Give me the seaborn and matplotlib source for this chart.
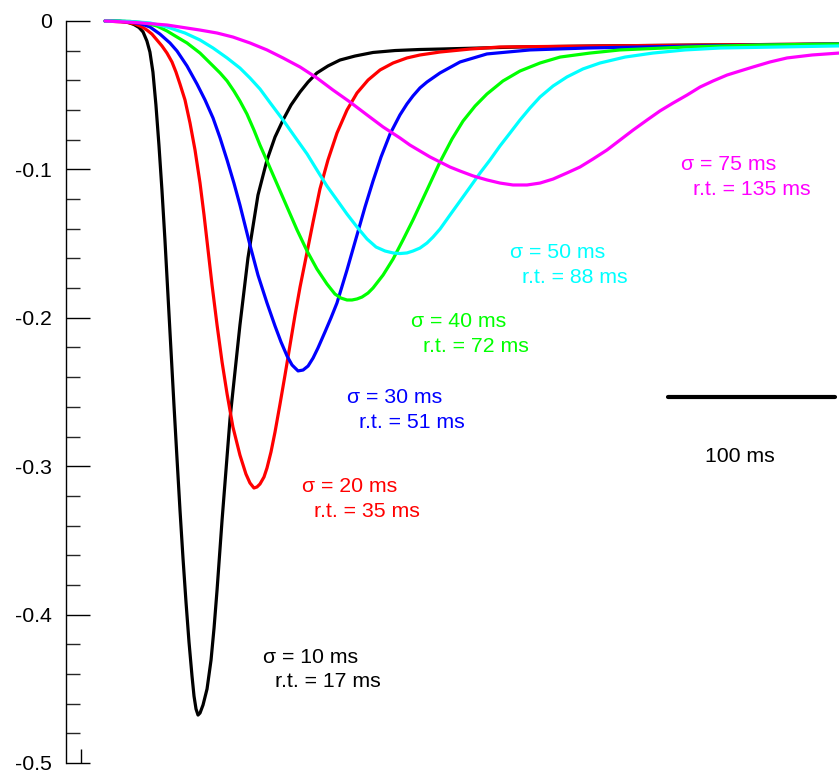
import matplotlib
matplotlib.use("Agg")
import matplotlib.pyplot as plt
import seaborn as sns
import pandas as pd

# ---------------- data (time in ms, response) ----------------
sigmas = [10, 20, 30, 40, 50, 75]
rise_times = [17, 35, 51, 72, 88, 135]
colors = ["#000000", "#ff0000", "#0000ff", "#00ff00", "#00ffff", "#ff00ff"]

t_s10 = [0, 9.0, 13.8, 17.4, 20.4, 22.8, 25.1, 26.9, 28.7, 30.5, 32.3, 34.1, 35.9, 37.7, 39.5,
         41.3, 43.1, 44.9, 46.7, 48.5, 50.3, 52.1, 53.3, 54.5, 55.7, 56.9, 58.7, 61.1, 63.5,
         65.3, 67.1, 70.1, 74.9, 80.8, 85.6, 91.6, 97.0, 101.8, 106.6, 111.4, 116.8, 121.6,
         126.9, 133.5, 140.7, 149.7, 160.5, 173.7, 188.6, 200.6, 248.5, 296.4, 356.3, 439.5]
v_s10 = [0, -0.0002, -0.0009, -0.0024, -0.0044, -0.0074, -0.0135, -0.0209, -0.0344, -0.0566,
         -0.0836, -0.1139, -0.1476, -0.1846, -0.2217, -0.2588, -0.2945, -0.3295, -0.3619,
         -0.3915, -0.4185, -0.4414, -0.4549, -0.4636, -0.4677, -0.4663, -0.4609, -0.4501,
         -0.4306, -0.4090, -0.3834, -0.3363, -0.2675, -0.2049, -0.1597, -0.1173, -0.0937,
         -0.0782, -0.0667, -0.0566, -0.0478, -0.0411, -0.0350, -0.0303, -0.0263, -0.0236,
         -0.0212, -0.0199, -0.0192, -0.0189, -0.0175, -0.0168, -0.0162, -0.0155]

t_s20 = [0, 12.0, 18.0, 22.2, 25.1, 28.1, 31.1, 34.1, 37.1, 40.1, 42.5, 44.9, 47.9, 50.9, 53.9,
         56.9, 59.3, 61.7, 64.1, 67.1, 70.1, 73.1, 76.6, 80.8, 84.4, 86.8, 89.2, 91.0, 92.8,
         95.2, 97.0, 99.4, 101.8, 104.8, 107.8, 110.8, 113.8, 116.8, 121.0, 124.6, 128.7,
         133.5, 138.9, 144.9, 150.9, 157.5, 164.7, 172.5, 180.8, 188.6, 200.6, 218.6, 236.5,
         296.4, 356.3, 439.5]
v_s20 = [0, -0.0007, -0.0020, -0.0040, -0.0061, -0.0088, -0.0128, -0.0168, -0.0216, -0.0276,
         -0.0344, -0.0425, -0.0532, -0.0687, -0.0869, -0.1092, -0.1307, -0.1543, -0.1779,
         -0.2049, -0.2298, -0.2513, -0.2736, -0.2925, -0.3053, -0.3113, -0.3147, -0.3140,
         -0.3120, -0.3073, -0.3012, -0.2904, -0.2770, -0.2581, -0.2385, -0.2183, -0.1981,
         -0.1792, -0.1557, -0.1354, -0.1132, -0.0937, -0.0755, -0.0600, -0.0485, -0.0398,
         -0.0330, -0.0283, -0.0249, -0.0229, -0.0209, -0.0189, -0.0175, -0.0168, -0.0162,
         -0.0155]

t_s30 = [0, 12.0, 21.0, 26.9, 32.9, 38.9, 43.1, 49.1, 55.1, 59.9, 64.7, 68.9, 73.1, 77.2, 80.8,
         86.8, 91.6, 97.0, 101.8, 105.4, 109.0, 112.0, 115.6, 118.6, 121.6, 124.6, 127.5,
         131.7, 135.3, 138.9, 144.9, 150.9, 155.7, 160.5, 165.3, 170.7, 176.6, 180.8, 184.4,
         188.6, 192.8, 200.6, 212.6, 228.7, 254.5, 288.6, 356.3, 439.5]
v_s30 = [0, -0.0003, -0.0017, -0.0040, -0.0088, -0.0148, -0.0202, -0.0303, -0.0425, -0.0532,
         -0.0654, -0.0788, -0.0937, -0.1092, -0.1240, -0.1509, -0.1712, -0.1900, -0.2055,
         -0.2163, -0.2257, -0.2318, -0.2358, -0.2352, -0.2325, -0.2271, -0.2204, -0.2096,
         -0.2001, -0.1900, -0.1678, -0.1442, -0.1253, -0.1078, -0.0916, -0.0761, -0.0633,
         -0.0559, -0.0505, -0.0451, -0.0411, -0.0350, -0.0276, -0.0222, -0.0195, -0.0182,
         -0.0168, -0.0155]

t_s40 = [0, 15.0, 24.0, 31.1, 37.1, 43.1, 49.1, 56.9, 64.7, 68.9, 73.1, 77.2, 80.8, 85.0, 89.2,
         92.8, 97.0, 103.0, 109.0, 115.0, 121.0, 126.9, 132.9, 137.7, 141.3, 144.9, 147.9,
         150.9, 153.9, 157.5, 160.5, 166.5, 172.5, 178.4, 184.4, 192.8, 200.6, 207.8, 214.4,
         221.6, 228.7, 238.3, 248.5, 260.5, 272.5, 290.4, 308.4, 348.5, 392.2, 439.5]
v_s40 = [0, -0.0003, -0.0013, -0.0034, -0.0067, -0.0108, -0.0148, -0.0216, -0.0303, -0.0350,
         -0.0404, -0.0472, -0.0539, -0.0627, -0.0735, -0.0836, -0.0943, -0.1098, -0.1253,
         -0.1408, -0.1550, -0.1671, -0.1772, -0.1840, -0.1867, -0.1880, -0.1880, -0.1873,
         -0.1860, -0.1833, -0.1799, -0.1712, -0.1604, -0.1476, -0.1341, -0.1139, -0.0950,
         -0.0795, -0.0674, -0.0573, -0.0492, -0.0404, -0.0337, -0.0283, -0.0243, -0.0216,
         -0.0195, -0.0175, -0.0162, -0.0155]

t_s50 = [0, 15.0, 26.9, 37.1, 47.9, 56.9, 64.7, 73.1, 80.8, 86.8, 92.8, 99.4, 106.6, 113.8,
         121.0, 126.9, 132.9, 138.9, 144.9, 150.9, 156.9, 162.3, 167.7, 172.5, 176.6, 180.8,
         184.4, 188.6, 192.8, 196.4, 200.6, 206.6, 212.6, 218.6, 224.6, 230.5, 236.5, 242.5,
         248.5, 254.5, 260.5, 268.3, 276.6, 286.2, 296.4, 311.4, 328.1, 347.3, 368.3, 404.2,
         439.5]
v_s50 = [0, -0.0003, -0.0013, -0.0040, -0.0081, -0.0128, -0.0182, -0.0249, -0.0317, -0.0384,
         -0.0458, -0.0559, -0.0667, -0.0782, -0.0896, -0.1004, -0.1112, -0.1206, -0.1301,
         -0.1388, -0.1469, -0.1523, -0.1550, -0.1563, -0.1567, -0.1563, -0.1550, -0.1530,
         -0.1496, -0.1456, -0.1402, -0.1307, -0.1213, -0.1119, -0.1024, -0.0937, -0.0842,
         -0.0755, -0.0667, -0.0586, -0.0512, -0.0438, -0.0377, -0.0323, -0.0283, -0.0243,
         -0.0216, -0.0195, -0.0182, -0.0175, -0.0168]

t_s75 = [0, 18.0, 37.1, 56.9, 67.1, 76.6, 86.8, 97.0, 106.6, 116.8, 126.9, 136.5, 146.7, 156.9,
         166.5, 176.6, 182.6, 188.6, 194.6, 200.6, 206.6, 212.6, 220.4, 228.7, 236.5, 244.3,
         252.7, 260.5, 268.3, 276.6, 284.4, 292.2, 300.6, 308.4, 316.2, 324.6, 332.3, 340.1,
         348.5, 356.3, 364.1, 372.5, 380.2, 388.0, 398.2, 408.4, 423.4, 439.5]
v_s75 = [0, -0.0010, -0.0027, -0.0061, -0.0081, -0.0108, -0.0148, -0.0195, -0.0249, -0.0310,
         -0.0384, -0.0465, -0.0546, -0.0633, -0.0714, -0.0788, -0.0836, -0.0876, -0.0916,
         -0.0950, -0.0984, -0.1011, -0.1044, -0.1071, -0.1092, -0.1105, -0.1105, -0.1092,
         -0.1065, -0.1024, -0.0984, -0.0930, -0.0869, -0.0802, -0.0735, -0.0667, -0.0606,
         -0.0553, -0.0499, -0.0445, -0.0404, -0.0364, -0.0337, -0.0310, -0.0276, -0.0249,
         -0.0229, -0.0216]

y_ticks = [0, -0.1, -0.2, -0.3, -0.4, -0.5]
y_tick_labels = ["0", "-0.1", "-0.2", "-0.3", "-0.4", "-0.5"]
y_minor_ticks = [-0.02, -0.04, -0.06, -0.08, -0.12, -0.14, -0.16, -0.18, -0.22, -0.24, -0.26,
                 -0.28, -0.32, -0.34, -0.36, -0.38, -0.42, -0.44, -0.46, -0.48]

scale_bar_ms = 100
scale_bar_label = "100 ms"

# ---------------- build long-form table ----------------
series_t = [t_s10, t_s20, t_s30, t_s40, t_s50, t_s75]
series_v = [v_s10, v_s20, v_s30, v_s40, v_s50, v_s75]
frames = []
for s, tt, vv in zip(sigmas, series_t, series_v):
    frames.append(pd.DataFrame({"t": tt, "v": vv, "sigma": f"{s} ms"}))
df = pd.concat(frames, ignore_index=True)

# ---------------- styling ----------------
sns.set_style("white")
plt.rcParams["font.family"] = ["Liberation Sans", "DejaVu Sans"]
FS = 15.3

W, H = 839, 773
fig = plt.figure(figsize=(W / 100, H / 100), dpi=100)
ax = fig.add_axes([66 / W, 10 / H, (W - 66) / W, 742 / H])

palette = {f"{s} ms": c for s, c in zip(sigmas, colors)}
sns.lineplot(data=df, x="t", y="v", hue="sigma", palette=palette, sort=False,
             estimator=None, legend=False, linewidth=2.3, ax=ax)
for ln in ax.lines:
    ln.set_clip_on(False)
    ln.set_solid_joinstyle("round")
    ln.set_solid_capstyle("round")

ax.set_xlim(-23.35, 439.5)
ax.set_ylim(-0.5, 0)
ax.set_xlabel("")
ax.set_ylabel("")

for side in ["top", "right", "bottom"]:
    ax.spines[side].set_visible(False)
ax.spines["left"].set_linewidth(1.0)
ax.spines["left"].set_color("black")

ax.set_yticks(y_ticks)
ax.set_yticklabels(y_tick_labels)
ax.set_yticks(y_minor_ticks, minor=True)
ax.tick_params(axis="y", which="major", direction="in", length=17.3, width=1.0,
               pad=10, labelsize=FS, colors="black", left=True)
ax.tick_params(axis="y", which="minor", direction="in", length=10, width=1.0, left=True)
ax.set_xticks([-14.4])
ax.tick_params(axis="x", which="major", direction="in", length=10, width=1.0,
               bottom=True, labelbottom=False, colors="black")

# curve labels
label_pos = [(94.6, -0.4286), (118.0, -0.3140), (144.9, -0.2540),
             (183.2, -0.2028), (242.5, -0.1563), (344.9, -0.0970)]
for s, rt, c, (lx, ly) in zip(sigmas, rise_times, colors, label_pos):
    ax.text(lx, ly, f"σ = {s} ms", color=c, fontsize=FS, ha="left", va="center")
    ax.annotate(f"r.t. = {rt} ms", xy=(lx, ly), xytext=(8.6, -17.5),
                textcoords="offset points", color=c, fontsize=FS,
                ha="left", va="center")

# scale bar
sb_start, sb_y = 337.1, -0.2534
ax.plot([sb_start, sb_start + scale_bar_ms], [sb_y, sb_y], color="black",
        linewidth=3.0, solid_capstyle="round", clip_on=False)
ax.text(380.2, -0.2935, scale_bar_label, fontsize=FS, ha="center", va="center",
        color="black")

fig.savefig("out.png", dpi=100)
